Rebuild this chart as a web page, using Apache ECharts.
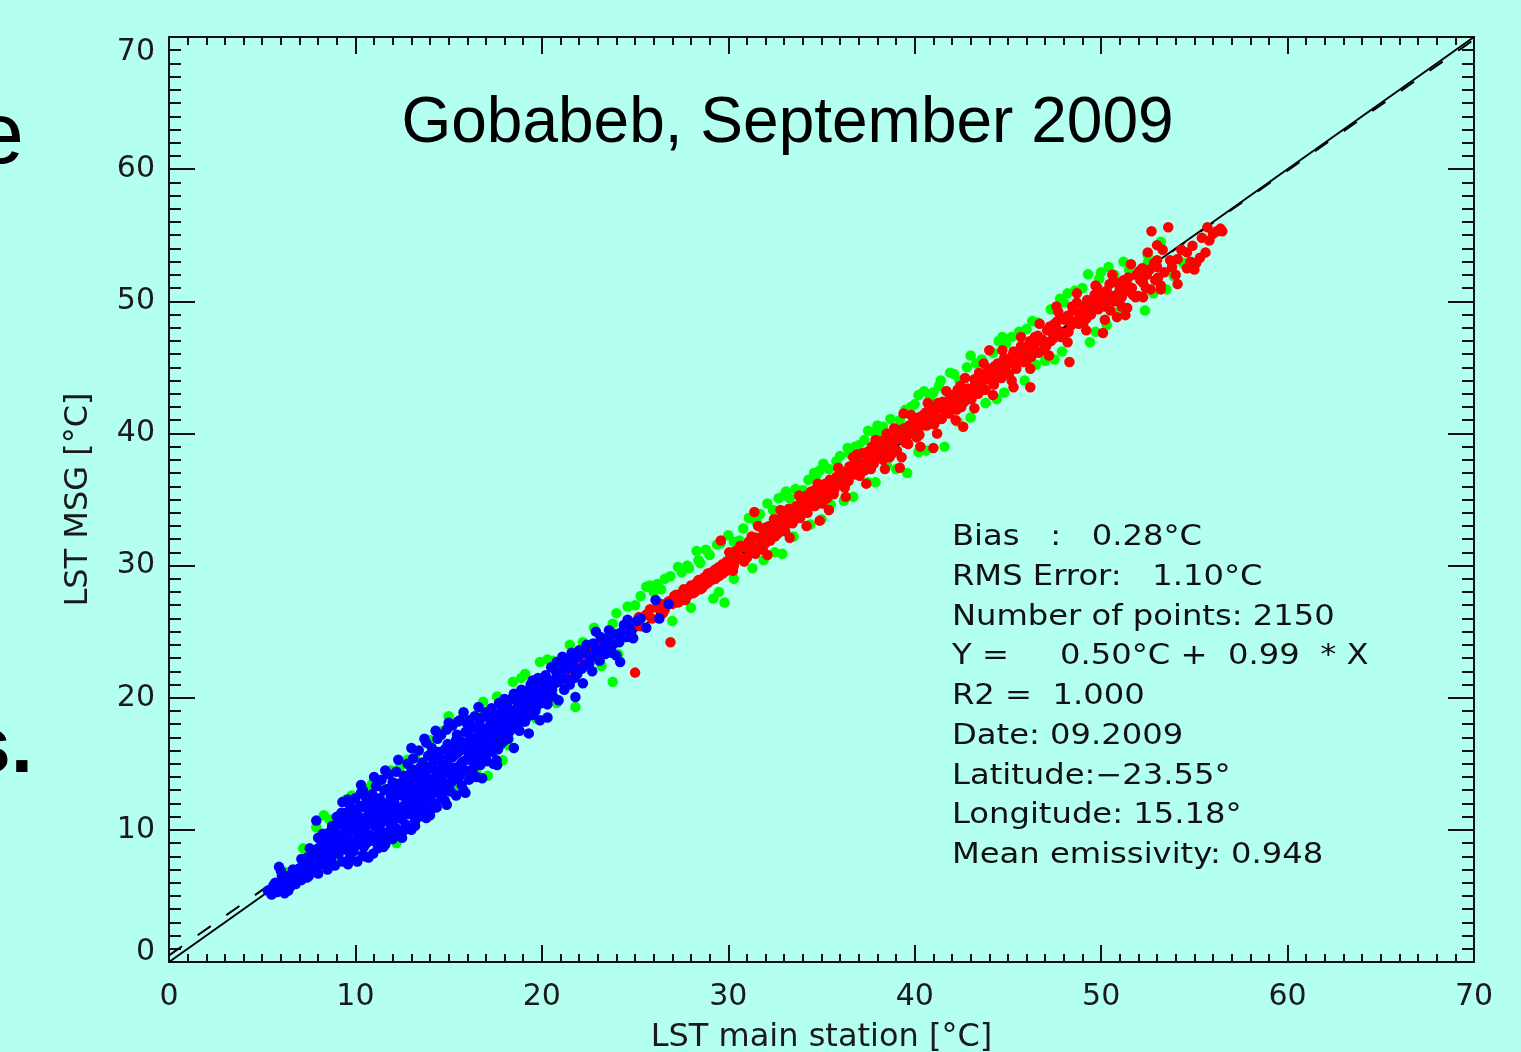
<!DOCTYPE html>
<html>
<head>
<meta charset="utf-8">
<script src="https://cdn.jsdelivr.net/npm/echarts@6/dist/echarts.min.js"></script>
<style>html,body{margin:0;padding:0;background:#b3fff0;}#chart{width:1521px;height:1052px;}</style>
</head>
<body>
<div id="chart"></div>
<script>
// ---- data ----
const titleText = 'Gobabeb, September 2009';
const xAxisName = 'LST main station [°C]';
const yAxisName = 'LST MSG [°C]';
const axisMin = 0, axisMax = 70, axisStep = 10;
const infoLines = [
  'Bias   :   0.28°C',
  'RMS Error:   1.10°C',
  'Number of points: 2150',
  'Y =     0.50°C +  0.99  * X',
  'R2 =  1.000',
  'Date: 09.2009',
  'Latitude:\u221223.55°',
  'Longitude: 15.18°',
  'Mean emissivity: 0.948'
];
const identityLine = [[0,0],[70,70]];
const fitLine = [[0,0.5],[70,69.8]];

const bluePoints = [
[5.3,5.4],[5.5,5.1],[5.6,5.8],[5.8,5.3],[5.9,7.2],[6.0,5.6],[6.1,6.2],[6.2,5.2],[6.3,5.9],[6.4,6.5],[6.5,5.7],[6.6,6.1],[6.7,6.8],[6.8,5.9],[6.9,6.4],
[7.0,7.1],[7.1,6.2],[7.2,7.5],[7.3,6.8],[7.4,7.9],[7.5,6.5],[7.6,7.3],[7.7,8.2],[7.8,6.9],[7.9,10.7],[7.9,7.7],[8.0,8.6],[8.0,6.7],
[8.1,9.3],[8.2,7.5],[8.3,8.1],[8.4,9.0],[8.5,7.0],[8.5,8.5],[8.6,9.8],[8.7,7.8],[8.8,8.9],[8.9,10.2],[8.9,7.3],[9.0,9.5],
[9.1,8.2],[9.2,10.8],[9.2,9.0],[9.3,12.1],[9.3,7.6],[9.4,9.8],[9.5,11.3],[9.5,8.5],[9.6,10.4],[9.7,7.9],[9.7,11.9],[9.8,9.2],[9.9,10.9],[9.9,8.4],[10.0,9.9],[10.0,12.4],
[10.1,7.6],[10.1,11.2],[10.2,8.9],[10.2,10.4],[10.3,12.8],[10.3,9.5],[10.4,13.0],[10.4,8.1],[10.5,11.7],[10.5,10.0],[10.6,9.0],[10.6,12.2],[10.7,10.8],[10.7,7.9],[10.8,11.5],[10.8,9.6],[10.9,12.7],[10.95,8.2],[11.0,10.3],[11.0,11.9],
[11.1,9.1],[11.1,13.3],[11.2,10.9],[11.2,8.6],[11.3,12.4],[11.3,10.1],[11.4,11.4],[11.4,13.8],[11.5,9.5],[11.5,12.0],[11.6,10.7],[11.6,8.9],[11.7,13.1],[11.7,11.6],[11.8,9.9],[11.8,14.2],[11.9,12.5],[11.9,10.4],[12.0,11.2],[12.0,13.6],[12.0,9.3],
[12.1,12.0],[12.2,10.1],[12.2,14.4],[12.3,11.5],[12.3,13.0],[12.4,9.6],[12.5,12.6],[12.5,10.8],[12.5,9.4],[12.6,14.1],[12.6,11.8],[12.7,13.4],[12.7,10.4],[12.8,12.2],[12.8,15.0],[12.9,11.2],[12.9,13.7],[13.0,10.0],[13.0,12.9],[13.0,14.6],
[13.1,11.7],[13.1,15.4],[13.2,13.3],[13.2,10.7],[13.3,12.3],[13.3,14.2],[13.4,11.0],[13.4,16.0],[13.5,13.6],[13.5,12.1],[13.6,15.1],[13.6,11.5],[13.7,14.4],[13.7,12.8],[13.8,16.6],[13.8,10.9],[13.9,13.9],[13.9,15.6],[14.0,12.4],[14.0,14.8],
[14.1,11.6],[14.1,16.2],[14.2,13.5],[14.2,15.2],[14.3,12.0],[14.36,11.7],[14.4,14.1],[14.4,16.9],[14.5,13.0],[14.5,15.6],[14.6,12.6],[14.6,17.2],[14.7,14.6],[14.7,13.7],[14.8,16.1],[14.8,12.2],[14.9,15.0],[14.9,17.6],[15.0,13.4],[15.0,14.3],
[15.1,16.4],[15.1,12.9],[15.2,15.5],[15.2,17.9],[15.3,13.8],[15.3,14.7],[15.4,16.8],[15.4,12.6],[15.5,15.9],[15.5,18.2],[15.6,14.1],[15.6,18.3],[15.7,16.3],[15.7,13.4],[15.8,13.0],[15.8,15.2],[15.9,17.4],[15.9,14.5],[16.0,16.0],[16.0,18.0],
[16.1,13.8],[16.1,18.3],[16.2,15.3],[16.2,17.0],[16.3,14.6],[16.4,16.5],[16.4,18.6],[16.5,15.7],[16.5,14.0],[16.6,17.5],[16.7,16.0],[16.7,14.9],[16.8,18.5],[16.85,17.0],[16.9,15.4],[17.0,16.7],[17.0,18.9],
[17.1,15.8],[17.2,17.6],[17.3,16.4],[17.3,19.2],[17.4,15.0],[17.5,18.0],[17.57,15.26],[17.6,17.0],[17.7,19.6],[17.8,16.5],[17.9,18.4],[18.0,17.3],[18.0,19.9],
[18.1,19.8],[18.2,16.9],[18.3,18.8],[18.4,17.8],[18.5,20.3],[18.6,18.1],[18.7,19.4],[18.8,17.5],[18.9,20.6],[19.0,18.9],[19.0,19.8],
[19.1,18.2],[19.2,20.3],[19.3,19.2],[19.4,21.0],[19.5,21.3],[19.5,18.7],[19.6,20.0],[19.7,19.3],[19.8,21.5],[19.9,18.3],[20.0,20.6],[20.0,19.6],
[20.2,21.7],[20.3,19.5],[20.4,20.9],[20.5,22.3],[20.6,20.1],[20.7,21.4],[20.8,22.7],[20.9,19.8],[21.0,21.9],[21.1,23.1],[21.2,20.6],[21.2,23.0],[21.4,22.2],[21.5,21.0],[21.6,23.4],[21.7,22.5],[21.8,20.05],[21.9,21.8],[22.0,23.6],[22.2,21.1],
[22.3,22.5],[22.4,24.0],[22.6,23.1],[22.7,22.0],[22.9,25.0],[22.9,23.7],[23.1,22.8],[23.3,24.3],[23.4,23.3],[23.6,25.1],[23.8,24.0],[24.0,23.2],[24.2,22.7],[24.2,24.9],[24.4,25.5],[24.55,24.6],[24.7,25.3],[24.9,24.5],[25.1,25.8],[25.3,26.0],[25.6,25.3],[26.1,27.4],[26.3,26.0],[26.8,27.1],
[8.3,8.7],[8.7,8.4],[9.1,9.6],[9.4,9.1],[9.8,10.3],[10.2,9.8],[10.5,10.9],[10.9,10.6],[11.2,11.7],[11.5,11.0],[11.8,12.1],[12.1,11.6],[12.4,12.9],[12.7,12.0],[13.0,13.5],[13.3,12.9],[13.6,14.0],[13.9,13.2],[14.2,14.6],[14.5,14.0],[14.8,15.3],[15.1,14.6],[15.4,15.8],[15.7,15.1],[16.0,16.6],[16.3,15.9],[16.6,16.9],[16.9,16.2],[17.2,17.9],[17.5,17.2],[17.8,18.6],[18.1,18.0],[18.5,19.0],[18.9,19.4],[19.3,19.8],[19.7,20.4],[20.1,20.3],[20.5,21.0],
[6.05,6.5],[6.25,5.6],[6.45,6.0],[6.65,7.0],[6.85,6.6],[7.05,6.7],[7.25,7.1],[7.45,7.2],[7.65,7.9],[7.85,8.4],[7.95,7.2],[7.55,8.6],
[8.15,8.0],[8.25,9.7],[8.45,8.3],[8.55,9.2],[8.65,8.0],[8.75,10.3],[8.85,9.5],[8.95,8.6],[9.05,10.4],[9.15,9.3],[9.25,11.3],[9.35,8.8],[9.45,10.2],[9.55,9.4],[9.65,11.0],[9.75,10.0],[9.85,8.9],[9.95,11.4],
[10.05,10.6],[10.15,9.3],[10.25,11.8],[10.35,10.2],[10.45,8.7],[10.55,12.5],[10.65,10.5],[10.75,11.3],[10.85,9.2],[10.95,11.1],[11.05,12.4],[11.15,10.4],[11.25,9.7],[11.35,11.9],[11.45,10.6],[11.55,13.0],[11.65,11.2],[11.75,9.4],[11.85,11.5],[11.95,12.9],
[12.05,10.7],[12.15,12.5],[12.25,11.1],[12.35,13.5],[12.45,11.4],[12.55,13.0],[12.65,10.0],[12.75,12.7],[12.85,11.6],[12.95,14.2],[13.05,12.2],[13.15,13.9],[13.25,11.4],[13.35,13.0],[13.45,14.7],[13.55,12.6],[13.65,13.4],[13.75,11.9],[13.85,14.6],[13.95,12.9],
[14.05,13.8],[14.15,15.6],[14.25,12.8],[14.35,14.4],[14.45,15.9],[14.55,13.4],[14.65,15.1],[14.75,12.9],[14.85,14.5],[14.95,16.5],[15.05,15.5],[15.15,13.6],[15.25,16.1],[15.35,14.1],[15.45,17.2],[15.55,14.8],[15.65,16.7],[15.75,14.4],[15.85,16.2],[15.95,15.3],
[16.05,17.3],[16.15,14.5],[16.25,16.1],[16.35,17.8],[16.45,15.2],[16.55,16.4],[16.65,18.0],[16.75,15.6],[16.85,16.4],[16.95,17.6],[17.05,15.2],[17.15,16.9],[17.25,18.4],[17.35,15.9],[17.45,17.3],[17.55,18.7],[17.65,16.1],[17.75,17.7],[17.85,19.0],[17.95,16.7],
[18.05,18.3],[18.15,19.3],[18.25,17.4],[18.35,19.9],[18.45,18.5],[18.55,17.7],[18.65,19.8],[18.75,18.7],[18.85,19.9],[18.95,18.2],[19.05,20.5],[19.15,19.5],[19.25,18.6],[19.35,20.6],[19.45,19.6],[19.55,20.7],[19.65,19.0],[19.75,20.9],[19.85,20.1],[19.95,21.2],
[20.15,19.9],[20.35,21.3],[20.55,20.6],[20.75,22.0],[20.95,21.2],[21.15,22.4],[21.35,21.4],[21.55,22.8],[21.75,21.5],[21.95,23.1],[22.15,22.2],[22.35,23.4],[22.55,22.6],[22.75,24.1],[22.95,23.2],[23.15,24.6],[23.35,23.8],[23.55,24.5],[23.75,23.4],[23.95,24.8],[24.15,24.2],[24.35,25.0],[24.6,25.9],[24.8,25.0],
[5.7,6.0],[6.0,6.9],[6.4,5.4],[7.1,7.8],[7.4,6.4],[8.0,9.4],[8.4,7.3],[9.0,11.0],[9.6,12.3],[10.3,13.4],[11.0,14.0],[11.6,14.5],[12.3,15.3],[13.0,16.2],[13.7,16.9],[14.3,17.5],[15.0,18.1],[15.8,18.9],[16.6,19.3],[9.6,7.4],[10.5,8.0],[11.5,8.7],[12.3,9.6],[13.2,10.3],[14.0,11.1],[14.9,11.9],[15.9,12.8],[16.8,13.9],[17.6,14.9],[18.5,16.2],[19.3,17.3],[20.3,18.5]
];

const redPoints = [
[20.6,21.2],[21.3,21.9],[21.9,22.6],[22.5,23.0],[23.0,23.9],[23.4,24.1],[23.8,24.7],[24.1,24.3],[24.4,25.2],[24.7,24.9],[25.0,21.9],[25.0,25.7],[25.3,25.4],[25.6,26.3],[25.9,26.0],[26.2,26.8],[26.5,26.4],[26.8,27.3],[26.9,24.2],
[27.0,27.1],[27.2,27.8],[27.4,27.3],[27.6,28.2],[27.8,27.7],[28.0,28.5],[28.2,28.0],[28.4,28.9],[28.6,28.3],[28.8,28.6],[28.9,29.4],[29.1,28.9],[29.3,29.7],[29.5,29.2],[29.6,31.9],[29.7,30.1],[29.9,29.6],[30.1,30.5],
[30.3,30.0],[30.4,31.1],[30.6,30.65],[30.8,31.4],[31.0,30.6],[31.1,31.8],[31.3,31.2],[31.4,34.06],[31.5,32.1],[31.7,31.5],[31.9,32.6],[32.0,31.7],[32.2,33.0],[32.4,32.9],[32.5,32.2],[32.7,33.5],[32.9,32.8],[33.0,34.0],[33.2,33.2],[33.4,34.3],[33.5,34.2],[33.7,33.6],[33.9,34.8],[34.0,34.2],[34.2,35.3],[34.4,34.6],[34.5,35.2],[34.7,35.8],[34.9,33.4],[35.0,35.4],[35.2,36.2],[35.3,35.1],
[35.5,35.9],[35.6,36.0],[35.8,36.7],[36.0,36.2],[36.1,37.1],[36.35,36.7],[36.5,37.5],[36.7,38.2],[36.8,36.9],[37.0,37.8],[37.2,38.5],[37.3,37.2],[37.5,38.1],[37.7,39.0],[37.8,37.7],[38.0,38.6],[38.2,39.4],[38.3,38.0],[38.5,40.0],[38.6,39.1],[38.8,38.5],[39.0,39.7],[39.2,37.4],[39.3,40.3],[39.4,41.5],[39.5,39.3],[39.7,40.6],[39.9,40.1],[40.1,39.7],[40.2,41.2],
[40.4,40.6],[40.6,41.6],[40.8,40.9],[41.0,38.9],[41.0,41.9],[41.2,41.8],[41.3,41.1],[41.5,42.4],[41.7,41.6],[41.9,42.8],[42.0,42.1],[42.2,42.5],[42.3,43.3],[42.5,42.0],[42.6,40.5],[42.7,43.1],[42.9,42.6],[43.1,43.3],[43.2,44.1],[43.4,43.0],[43.6,43.9],[43.8,43.3],[43.9,44.7],[44.0,46.3],[44.1,44.0],[44.3,45.1],[44.5,44.4],[44.6,45.0],[44.8,45.7],[44.9,44.6],
[45.1,45.3],[45.3,43.5],[45.3,46.2],[45.5,45.6],[45.7,46.6],[45.8,46.1],[46.0,45.5],[46.2,43.5],[46.2,47.0],[46.4,46.4],[46.6,47.4],[46.7,47.1],[46.9,46.3],[47.1,47.8],[47.3,47.0],[47.5,48.3],[47.6,49.6],[47.7,47.8],[47.9,48.7],[48.1,47.6],[48.3,45.4],[48.3,48.6],[48.5,49.3],[48.7,50.6],[48.8,48.3],[49.0,49.3],[49.2,48.7],[49.4,50.0],[49.6,49.5],[49.8,51.0],[49.9,50.1],
[50.1,47.6],[50.2,49.6],[50.4,50.5],[50.5,49.3],[50.7,50.0],[50.85,51.4],[50.85,48.8],[51.0,50.9],[51.2,51.6],[51.3,48.95],[51.4,49.5],[51.5,51.1],[51.7,50.5],[51.9,52.0],[52.1,51.6],[52.25,50.3],[52.4,51.0],[52.6,52.4],[52.7,55.3],[52.9,51.6],[53.0,54.25],[53.0,52.6],[53.2,50.9],[53.2,51.2],[53.6,55.6],[53.7,53.1],[54.1,53.2],[54.1,51.3],[54.6,53.7],[54.6,52.5],[55.0,52.4],[55.1,52.9],[55.4,54.8],[55.6,53.7],[56.0,55.1],[56.2,55.3],[56.4,55.5],
[30.2,30.4],[31.2,31.5],[32.3,32.5],[33.3,33.7],[34.3,34.6],[35.4,35.6],[36.4,36.9],[37.4,37.6],[38.4,38.9],[39.6,39.8],[40.5,40.9],[41.6,41.9],[42.4,42.7],[43.5,43.6],[44.4,44.8],[45.6,45.9],[46.5,46.9],[47.4,47.6],[48.4,48.2],[49.1,49.6],[50.3,50.8],[51.1,50.3],
[27.1,27.7],[27.3,27.2],[27.5,27.9],[27.7,27.4],[27.9,28.3],[28.1,27.9],[28.3,28.7],[28.5,28.2],[28.7,29.1],[28.9,28.7],[29.1,29.5],[29.3,29.0],[29.5,29.9],[29.7,29.4],[29.9,30.3],
[30.05,31.0],[30.25,29.6],[30.45,30.5],[30.65,31.5],[30.85,30.3],[31.05,31.3],[31.25,32.2],[31.45,30.9],[31.65,32.0],[31.85,31.2],[32.05,32.9],[32.25,31.9],[32.45,33.5],[32.65,32.4],[32.85,33.3],[33.05,32.6],[33.25,34.3],[33.45,33.2],[33.65,34.5],[33.85,33.6],[34.05,34.9],[34.25,34.0],[34.45,35.6],[34.65,34.5],[34.85,35.4],[35.05,34.7],[35.25,35.7],[35.45,36.5],[35.65,35.4],[35.85,36.3],[36.05,37.0],[36.25,35.9],[36.45,36.4],[36.65,37.4],[36.85,37.9],[37.05,36.8],[37.25,37.7],[37.45,38.6],[37.65,37.3],[37.85,38.4],[38.05,39.1],[38.25,38.3],[38.45,39.6],[38.65,38.2],[38.85,39.4],[39.05,38.7],[39.25,39.6],[39.45,40.4],[39.65,39.2],[39.85,40.7],
[40.05,40.4],[40.25,39.9],[40.45,41.4],[40.65,40.6],[40.85,41.5],[41.05,40.7],[41.25,42.3],[41.45,41.1],[41.65,42.1],[41.85,41.5],[42.05,42.9],[42.25,41.8],[42.45,43.6],[42.65,42.4],[42.85,43.4],[43.05,42.6],[43.25,43.8],[43.45,44.6],[43.65,43.3],[43.85,44.1],[44.05,44.9],[44.25,43.7],[44.45,45.3],[44.65,44.2],[44.85,45.0],[45.05,44.5],[45.25,45.9],[45.45,44.9],[45.65,46.3],[45.85,45.4],[46.05,46.5],[46.25,45.8],[46.45,47.3],[46.65,46.1],[46.85,47.1],[47.05,46.6],[47.25,48.1],[47.45,47.2],[47.65,48.5],[47.85,47.3],[48.05,48.6],[48.25,47.7],[48.45,49.6],[48.65,48.5],[48.85,49.1],[49.05,48.4],[49.25,50.1],[49.45,49.0],[49.65,50.5],[49.85,49.4],
[50.05,50.6],[50.25,49.9],[50.45,51.3],[50.65,50.4],[50.85,50.1],[51.05,51.4],[51.25,50.7],[51.45,51.8],[51.65,51.0],[51.85,50.3],[52.05,52.3],[52.25,51.4],[52.45,52.0],[52.65,50.9],[52.85,52.9],[53.05,51.8],[53.4,52.2],[53.8,52.6],[54.3,53.9],[54.8,53.0],[55.3,53.3],[55.8,54.6],[56.5,55.3],
[21.6,22.4],[22.2,23.2],[22.8,23.5],[23.2,24.5],[23.6,23.9],[24.6,25.6],[25.2,26.1],[25.8,26.7],[26.4,27.1],[26.6,26.7],
[31.6,33.0],[32.1,30.8],[32.8,34.2],[33.3,32.1],[33.8,35.3],[34.2,33.0],[34.8,36.2],[35.4,34.2],[35.9,37.4],[36.3,35.2],[36.9,38.4],[37.4,36.2],[37.9,39.5],[38.4,37.3],[38.9,40.4],[39.3,38.2],[39.8,41.4],[40.3,39.0],[40.7,42.3],[41.2,40.0],[41.7,43.2],[42.2,41.0],[42.7,44.2],[43.2,41.9],[43.7,45.3],[44.2,42.9],[44.7,46.3],[45.2,44.0],[45.7,47.3],[46.2,44.9],[46.7,48.3],[47.2,45.9],[47.7,49.2],[48.2,46.9],[48.7,49.9],[49.2,47.8],[49.7,51.2],[50.2,48.6],[50.6,52.0],[51.1,49.6],[51.6,52.8],[52.0,50.4],[52.5,53.7],[53.3,53.9],[54.0,52.0],[54.9,54.2],[55.7,55.6],
[31.9,32.0],[32.6,33.1],[33.1,33.9],[33.9,34.3],[34.6,35.0],[35.1,35.9],[35.7,35.8],[36.2,36.6],[36.9,37.4],[37.6,38.1],[38.1,38.4],[38.8,39.1],[39.5,39.9],[40.0,40.9],[40.9,41.2],[41.4,42.0],[42.1,42.4],[42.8,43.0],[43.3,43.8],[44.0,44.3],[44.7,45.2],[45.4,45.5],[46.1,46.7],[46.8,47.0],[47.6,47.9],[48.2,48.9],[48.9,49.0],[49.5,49.9],[50.4,50.2],[51.3,51.3],[52.2,52.5],[53.0,53.1]
];

const greenPoints = [
[6.3,6.8],[7.9,10.2],[8.3,11.1],[8.9,7.6],[9.5,12.3],[10.9,13.5],[11.9,14.5],[12.2,9.0],[12.8,15.3],[13.5,11.0],[14.7,17.5],[15.0,18.6],[16.5,14.26],[17.1,14.1],[17.0,15.26],[17.9,15.26],[16.85,19.7],[16.7,19.0],[17.4,19.0],[18.45,21.2],[19.1,21.8],[19.7,18.4],[19.9,22.7],[20.6,22.8],[21.5,24.0],[22.2,24.2],[21.8,19.3],[23.8,21.2],[23.8,25.6],[24.1,23.3],[24.0,26.4],
[25.0,27.0],[25.6,28.4],[25.8,28.5],[26.0,28.0],[26.6,29.0],[27.0,25.8],[27.5,29.5],[28.3,31.1],[28.4,30.4],[28.5,30.2],[29.0,30.8],[29.2,27.5],[29.8,27.2],[30.3,29.0],[30.6,31.9],[30.8,32.8],[31.5,33.3],[31.9,30.4],[32.1,34.7],[32.9,30.9],[33.0,35.3],[33.3,35.1],[33.5,32.2],[34.0,35.7],[34.7,36.7],[35.1,37.7],[35.5,34.6],[35.8,37.9],[36.2,34.9],[36.5,38.5],[37.0,39.1],[37.5,36.3],[37.8,40.1],[38.3,40.5],[38.5,37.6],[38.9,40.1],[39.5,41.8],[39.6,37.0],[40.2,42.9],[40.5,43.2],[41.0,43.1],[41.6,39.0],[41.9,44.6],[42.4,44.0],[43.3,45.3],[43.8,42.3],[44.8,43.1],[44.9,46.8],[45.6,47.7],[46.5,45.2],[47.8,50.2],[47.9,46.2],
[48.2,50.6],[49.3,52.05],[49.4,46.9],[49.6,50.1],[50.3,48.2],[50.7,52.0],[51.5,52.4],[52.35,49.3],[52.5,53.5],[52.5,52.9],[53.2,54.5],[53.5,50.9],[54.4,52.9],
[24.6,26.9],[25.3,27.7],[26.2,28.6],[26.9,29.2],[27.3,29.9],[27.8,30.0],[28.8,31.2],[29.4,31.6],[30.0,32.3],[30.3,31.8],[31.1,33.6],[31.7,33.9],[32.4,34.2],[32.7,35.1],[33.6,35.8],[34.3,36.5],[34.9,37.2],[35.4,37.3],[36.0,38.3],[36.8,39.0],[37.3,39.5],[37.5,40.2],[38.1,39.9],[38.7,41.1],[39.2,41.0],[40.0,42.2],[40.8,42.6],[41.3,43.6],[41.7,43.2],[42.1,44.5],[42.8,45.0],[43.6,45.6],[44.2,46.1],[44.5,47.0],[45.2,47.3],[46.0,47.9],[46.6,48.4],[47.3,49.4],[48.6,50.8],[49.9,51.7],[50.4,52.6],[51.2,53.0],
[28.0,26.8],[31.3,29.8],[34.4,33.1],[36.7,35.2],[39.0,37.3],[40.6,38.7],[43.0,41.2],[45.9,44.0],[47.0,45.5],[51.0,49.2],[53.9,51.9],
[7.2,8.6],[8.6,10.8],[9.8,12.6],[10.6,13.1],[11.4,13.3],[12.4,14.8],[13.2,15.5],[14.0,16.8],[15.8,18.6],[17.6,20.1],[18.9,21.5],[20.3,22.9],[22.8,25.3],[13.8,11.5],[15.4,13.0],[18.2,16.4],[20.8,19.6],[23.2,22.4],[9.9,8.0],[11.6,9.6],
[26.4,28.2],[27.9,29.8],[29.6,31.7],[31.4,33.7],[33.1,35.6],[34.6,37.0],[36.4,38.9],[38.0,40.6],[39.8,42.0],[41.4,44.0],[43.0,45.9],[44.7,47.3],[46.3,48.5],[48.0,49.9],[49.0,51.0],[50.0,52.2],[29.5,28.0],[32.5,31.0],[35.0,33.5],[37.9,36.3],[40.2,38.6],[42.3,40.9],[44.4,42.6],[47.5,45.6],[49.7,47.7],[52.8,50.6]
];

// ---- chart ----
const chart = echarts.init(document.getElementById('chart'));
const axisColor = '#111';
const labelFont = {fontFamily: 'DejaVu Sans', fontSize: 30, color: '#1a1a1a'};
const nameFont = {fontFamily: 'DejaVu Sans', fontSize: 32, color: '#1a1a1a'};

function xAx(pos, showLabel) {
  return {
    type: 'value', position: pos, min: axisMin, max: axisMax, interval: axisStep,
    axisLine: {show: true, onZero: false, lineStyle: {color: axisColor, width: 2}},
    axisTick: {show: true, inside: true, length: 17, lineStyle: {color: axisColor, width: 2}},
    minorTick: {show: true, splitNumber: 10, length: 8, lineStyle: {color: axisColor, width: 2}},
    splitLine: {show: false}, minorSplitLine: {show: false},
    axisLabel: Object.assign({show: showLabel, margin: 20}, labelFont),
    name: showLabel ? xAxisName : '',
    nameLocation: 'middle', nameGap: 60,
    nameTextStyle: nameFont
  };
}
function yAx(pos, showLabel) {
  return {
    type: 'value', position: pos, min: axisMin, max: axisMax, interval: axisStep,
    axisLine: {show: true, onZero: false, lineStyle: {color: axisColor, width: 2}},
    axisTick: {show: true, inside: true, length: 26, lineStyle: {color: axisColor, width: 2}},
    minorTick: {show: true, splitNumber: 10, length: 12, lineStyle: {color: axisColor, width: 2}},
    splitLine: {show: false}, minorSplitLine: {show: false},
    axisLabel: Object.assign({
      show: showLabel, margin: 14, verticalAlignMaxLabel: 'top',
      formatter: function (v) { return v === axisMin ? '{lo|' + v + '}' : String(v); },
      rich: {lo: {fontFamily: 'DejaVu Sans', fontSize: 30, color: '#1a1a1a', padding: [0, 0, 19, 0]}}
    }, labelFont),
    name: showLabel ? yAxisName : '',
    nameLocation: 'middle', nameGap: 74,
    nameTextStyle: nameFont
  };
}

const option = {
  backgroundColor: '#b3fff0',
  animation: false,
  grid: {left: 169, top: 37, width: 1305, height: 925, outerBoundsMode: 'none', containLabel: false},
  xAxis: [xAx('bottom', true), xAx('top', false)],
  yAxis: [yAx('left', true), yAx('right', false)],
  series: [
    {type: 'line', z: 1, data: identityLine, symbol: 'none', lineStyle: {color: '#000', width: 2}, silent: true},
    {type: 'line', z: 1, data: fitLine, symbol: 'none', lineStyle: {color: '#000', width: 2, type: [16, 19]}, silent: true},
    {type: 'scatter', z: 2, data: greenPoints, symbolSize: 10.5, itemStyle: {color: '#00ff00', opacity: 1}},
    {type: 'scatter', z: 2, data: redPoints, symbolSize: 10.5, itemStyle: {color: '#ff0000', opacity: 1}},
    {type: 'scatter', z: 2, data: bluePoints, symbolSize: 10.5, itemStyle: {color: '#0000ff', opacity: 1}}
  ],
  graphic: [
    {type: 'text', x: 787.5, y: 124, style: {text: titleText, font: '64px "Liberation Sans"', fill: '#000', textAlign: 'center', textVerticalAlign: 'middle'}},
    {type: 'text', x: 952, y: 518, scaleX: 1.15, style: {text: infoLines.join('\n'), font: '28px "DejaVu Sans"', lineHeight: 39.75, fill: '#111', textAlign: 'left', textVerticalAlign: 'top'}},
    {type: 'text', x: 24, y: 139, style: {text: 'e', font: '88px "Liberation Sans"', fill: '#000', textAlign: 'right', textVerticalAlign: 'middle'}},
    {type: 'text', x: 33, y: 750, style: {text: 's.', font: 'bold 80px "Liberation Sans"', fill: '#000', textAlign: 'right', textVerticalAlign: 'middle'}}
  ]
};
chart.setOption(option);
</script>
</body>
</html>
